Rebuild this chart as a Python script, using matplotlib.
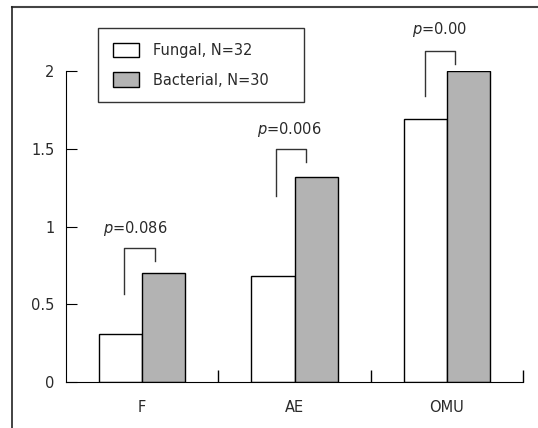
import numpy as np
import matplotlib
matplotlib.use('Agg')
import matplotlib.pyplot as plt
from matplotlib.lines import Line2D

categories  = ['F', 'AE', 'OMU']
fungal      = [0.31, 0.68, 1.69]
bacterial   = [0.70, 1.32, 2.00]
legend_lbl  = ['Fungal, N=32', 'Bacterial, N=30']
p_labels    = ['$p$=0.086', '$p$=0.006', '$p$=0.00']

# significance brackets (x offsets from group centre, y in data units)
br_left     = [-0.117, -0.119, -0.144]
br_right    = [0.082, 0.078, 0.052]
br_lo       = [0.567, 1.198, 1.837]
br_top      = [0.864, 1.497, 2.128]
br_ro       = [0.779, 1.416, 2.047]
p_x         = [-0.257, 0.757, 1.77]
p_y         = [0.988, 1.626, 2.267]

W, H = 538, 428
txt_col = '#2a2a2a'
fs = 10.5

fig = plt.figure(figsize=(W / 100, H / 100), dpi=100)
ax = fig.add_axes([66 / W, 1 - 382 / H, (523 - 66) / W, (382 - 71) / H])

x = np.arange(len(categories))
bw = 0.284
ax.bar(x - bw / 2, fungal, bw, color='white', edgecolor='black', linewidth=1.0,
       label=legend_lbl[0], zorder=2)
ax.bar(x + bw / 2, bacterial, bw, color='#b3b3b3', edgecolor='black', linewidth=1.0,
       label=legend_lbl[1], zorder=2)

for i in range(len(categories)):
    xl = x[i] + br_left[i]
    xr = x[i] + br_right[i]
    ax.plot([xl, xl, xr, xr], [br_lo[i], br_top[i], br_top[i], br_ro[i]],
            color='#333333', lw=1.0, clip_on=False)
    ax.text(p_x[i], p_y[i], p_labels[i], ha='left', va='center', fontsize=fs,
            color=txt_col)

ax.set_xlim(-0.5, 2.5)
ax.set_ylim(0, 2)
ax.spines['top'].set_visible(False)
ax.spines['right'].set_visible(False)
ax.set_yticks([0, 0.5, 1, 1.5, 2])
ax.set_yticklabels(['0', '0.5', '1', '1.5', '2'])
ax.tick_params(axis='y', direction='in', length=8, pad=8.5, labelsize=fs,
               labelcolor=txt_col)
ax.set_xticks(x)
ax.set_xticklabels(categories)
ax.set_xticks([0.5, 1.5, 2.5], minor=True)
ax.tick_params(axis='x', which='major', length=0, pad=13, labelsize=fs,
               labelcolor=txt_col)
ax.tick_params(axis='x', which='minor', direction='in', length=9, width=1.0)

leg = ax.legend(loc='upper left', mode='expand',
                bbox_to_anchor=(98 / W, 1 - 102 / H, 206 / W, 74 / H),
                bbox_transform=fig.transFigure, fontsize=fs, frameon=True,
                fancybox=False, edgecolor='black', borderpad=1.0,
                handlelength=1.8, handleheight=1.15, handletextpad=1.0,
                labelspacing=1.0, borderaxespad=0)
leg.get_frame().set_linewidth(1.0)
for t in leg.get_texts():
    t.set_color(txt_col)

# frame around the figure
fig.add_artist(Line2D([12 / W, 1], [1 - 6.5 / H, 1 - 6.5 / H],
                      transform=fig.transFigure, color='#444444', lw=1.5))
fig.add_artist(Line2D([12 / W, 12 / W], [0, 1 - 6.5 / H],
                      transform=fig.transFigure, color='#222222', lw=1.2))

fig.savefig('out.png', dpi=100)
